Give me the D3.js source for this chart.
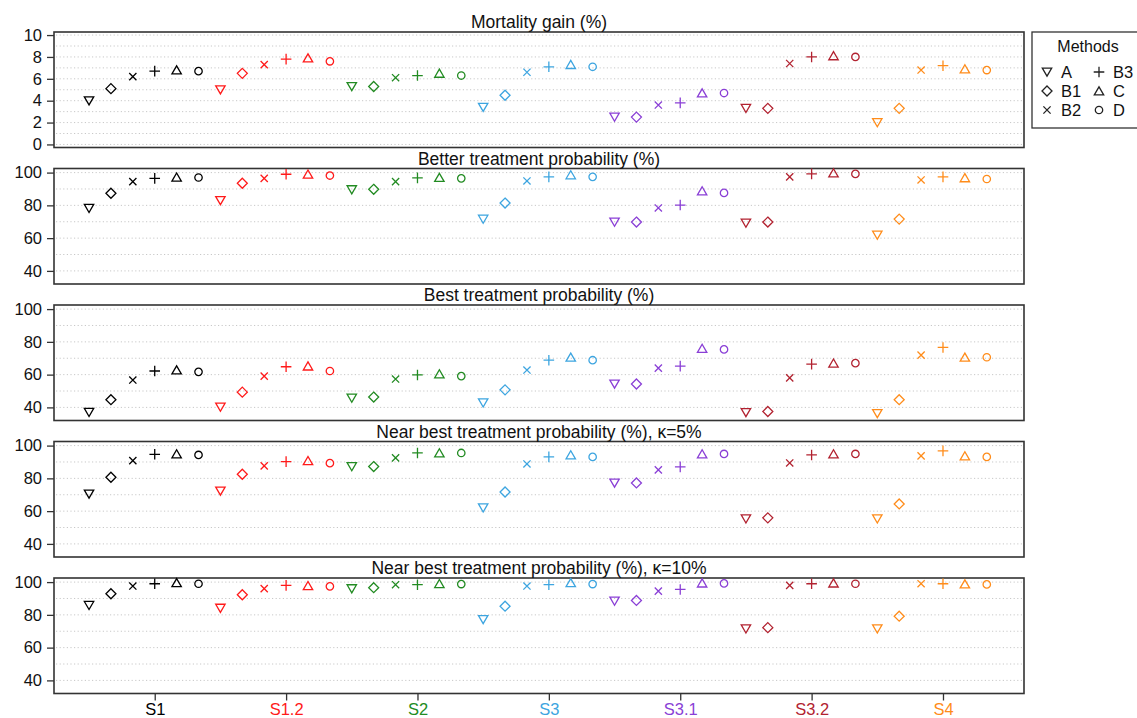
<!DOCTYPE html>
<html>
<head>
<meta charset="utf-8">
<script src="https://cdn.jsdelivr.net/npm/d3@7"></script>
<style>
  html, body { margin: 0; padding: 0; background: #fff; }
  svg { display: block; }
  text { font-family: "Liberation Sans", Arial, Helvetica, sans-serif; }
</style>
</head>
<body>
<svg id="chart" width="1137" height="718"></svg>
<script>
// ---------------- data ----------------
const scenarios = ["S1", "S1.2", "S2", "S3", "S3.1", "S3.2", "S4"];
const scenarioColors = ["#000000", "#FF1A1A", "#228B22", "#3DA5E0", "#8A3FD6", "#B22230", "#FF8C1A"];
const methods = ["A", "B1", "B2", "B3", "C", "D"];

const panelTitles = [
  "Mortality gain (%)",
  "Better treatment probability (%)",
  "Best treatment probability (%)",
  "Near best treatment probability (%), κ=5%",
  "Near best treatment probability (%), κ=10%"
];

// rows = scenarios, columns = methods A, B1, B2, B3, C, D
const mortalityGain = [
  [4.0, 5.1, 6.2, 6.7, 6.8, 6.7],
  [5.0, 6.5, 7.3, 7.8, 7.9, 7.6],
  [5.3, 5.3, 6.1, 6.3, 6.5, 6.3],
  [3.4, 4.5, 6.6, 7.1, 7.3, 7.1],
  [2.5, 2.5, 3.6, 3.8, 4.7, 4.7],
  [3.3, 3.3, 7.4, 8.0, 8.1, 8.0],
  [2.0, 3.3, 6.8, 7.2, 6.9, 6.8]
];
const betterTreatment = [
  [78.2, 87.4, 94.5, 96.5, 97.2, 97.0],
  [83.0, 93.5, 96.5, 99.0, 99.0, 98.2],
  [89.6, 89.8, 94.5, 96.8, 97.0, 96.5],
  [71.6, 81.4, 94.9, 97.4, 98.6, 97.4],
  [69.8, 69.8, 78.4, 80.2, 88.8, 87.6],
  [69.2, 69.8, 97.4, 99.2, 99.8, 99.2],
  [61.9, 71.6, 95.5, 97.4, 96.8, 96.1]
];
const bestTreatment = [
  [37.0, 44.7, 56.7, 62.2, 62.8, 61.7],
  [40.2, 49.3, 59.1, 64.8, 65.2, 62.2],
  [45.7, 46.3, 57.3, 59.8, 60.4, 59.1],
  [42.8, 50.7, 62.8, 68.8, 70.6, 68.8],
  [54.3, 54.3, 64.0, 65.2, 76.0, 75.4],
  [36.9, 37.5, 58.0, 66.4, 67.0, 67.0],
  [36.3, 44.7, 71.9, 76.6, 70.6, 70.6]
];
const nearBest5 = [
  [70.5, 80.7, 90.8, 94.7, 94.9, 94.3],
  [72.3, 82.5, 87.6, 90.2, 90.8, 89.3],
  [87.2, 87.2, 92.5, 95.5, 95.5, 95.5],
  [62.0, 71.7, 88.8, 93.1, 94.3, 93.1],
  [77.2, 77.2, 85.2, 87.0, 94.9, 94.9],
  [55.3, 55.9, 89.4, 94.3, 94.9, 94.9],
  [55.3, 64.4, 93.7, 96.8, 93.7, 93.1]
];
const nearBest10 = [
  [85.8, 92.9, 97.6, 99.0, 99.6, 99.0],
  [84.1, 92.3, 96.0, 98.0, 97.8, 97.4],
  [96.0, 96.6, 98.4, 98.4, 99.0, 98.8],
  [77.2, 85.3, 97.6, 98.4, 99.6, 98.8],
  [88.4, 88.8, 94.5, 95.5, 99.4, 99.2],
  [71.5, 72.2, 98.0, 99.0, 99.4, 99.0],
  [71.5, 79.2, 99.0, 99.0, 98.8, 98.6]
];
const panelData = [mortalityGain, betterTreatment, bestTreatment, nearBest5, nearBest10];

const mortalityTicks = [0, 2, 4, 6, 8, 10];
const mortalityGrid = [0, 1, 2, 3, 4, 5, 6, 7, 8, 9, 10];
const probTicks = [40, 60, 80, 100];
const probGrid = [40, 50, 60, 70, 80, 90, 100];

// ---------------- layout ----------------
const svg = d3.select("#chart");
const left = 54, right = 1024;
const panelTop0 = 32, panelStep = 136.5, panelH = 115.5;

const x = d3.scaleLinear().domain([-1.6, 42.7]).range([left, right]);
const nM = methods.length;

function symbolPath(m) {
  switch (m) {
    case "A": return "M-4.7,-3.9L4.7,-3.9L0,4.2Z";
    case "C": return "M-4.7,3.9L4.7,3.9L0,-4.2Z";
    case "B1": return "M0,-5L5,0L0,5L-5,0Z";
    case "B2": return "M-3.6,-3.6L3.6,3.6M-3.6,3.6L3.6,-3.6";
    case "B3": return "M-5.3,0L5.3,0M0,-5.3L0,5.3";
    case "D": return d3.path().toString() || "M3.7,0A3.7,3.7,0,1,1,-3.7,0A3.7,3.7,0,1,1,3.7,0Z";
  }
}
function circlePath(r) {
  return `M${r},0A${r},${r},0,1,1,${-r},0A${r},${r},0,1,1,${r},0Z`;
}
function markerPath(m) { return m === "D" ? circlePath(3.7) : symbolPath(m); }

panelData.forEach((data, p) => {
  const top = panelTop0 + p * panelStep;
  const bottom = top + panelH;
  const isMort = p === 0;
  const y = d3.scaleLinear()
    .domain(isMort ? [-0.28, 10.28] : [32.0, 102.5])
    .range([bottom, top]);

  const g = svg.append("g");

  // gridlines
  g.selectAll("line.grid")
    .data(isMort ? mortalityGrid : probGrid)
    .enter().append("line")
    .attr("x1", left + 2).attr("x2", right - 2)
    .attr("y1", d => y(d)).attr("y2", d => y(d))
    .attr("stroke", "#c8c8c8").attr("stroke-width", 1)
    .attr("stroke-dasharray", "1.2,2.4");

  // y axis
  const ya = g.append("g")
    .attr("transform", `translate(${left},0)`)
    .call(d3.axisLeft(y).tickValues(isMort ? mortalityTicks : probTicks)
      .tickSize(7).tickPadding(5).tickFormat(d3.format("d")));
  ya.select(".domain").remove();
  ya.selectAll(".tick line").attr("stroke", "#333").attr("stroke-width", 1.3);
  ya.selectAll(".tick text").attr("font-size", 16.5).attr("fill", "#111")
    .style("font-family", '"Liberation Sans", Arial, sans-serif');

  // frame
  g.append("rect")
    .attr("x", left).attr("y", top)
    .attr("width", right - left).attr("height", panelH)
    .attr("fill", "none").attr("stroke", "#333").attr("stroke-width", 1.6);

  // title
  g.append("text")
    .attr("x", (left + right) / 2).attr("y", top - 4)
    .attr("text-anchor", "middle").attr("font-size", 17.5).attr("fill", "#111")
    .text(panelTitles[p]);

  // points
  const pts = [];
  data.forEach((row, si) => row.forEach((v, mi) => pts.push({ si, mi, v })));
  g.selectAll("path.pt").data(pts).enter().append("path")
    .attr("transform", d => `translate(${x(d.si * nM + d.mi)},${y(d.v)})`)
    .attr("d", d => markerPath(methods[d.mi]))
    .attr("fill", "none")
    .attr("stroke", d => scenarioColors[d.si])
    .attr("stroke-width", 1.3);

  // bottom axis on last panel
  if (p === panelData.length - 1) {
    const xa = g.append("g")
      .attr("transform", `translate(0,${bottom})`)
      .call(d3.axisBottom(x)
        .tickValues(scenarios.map((s, i) => i * nM + 3))
        .tickFormat((d, i) => scenarios[i])
        .tickSize(7).tickPadding(3));
    xa.select(".domain").remove();
    xa.selectAll(".tick line").attr("stroke", "#333").attr("stroke-width", 1.3);
    xa.selectAll(".tick text")
      .attr("font-size", 16.5)
      .attr("fill", (d, i) => scenarioColors[i])
      .style("font-family", '"Liberation Sans", Arial, sans-serif');
  }
});

// ---------------- legend ----------------
const lg = svg.append("g");
lg.append("rect")
  .attr("x", 1032).attr("y", 32).attr("width", 130).attr("height", 96)
  .attr("fill", "#fff").attr("stroke", "#333").attr("stroke-width", 1.3);
lg.append("text").attr("x", 1088).attr("y", 52)
  .attr("text-anchor", "middle").attr("font-size", 16).attr("fill", "#111")
  .text("Methods");
methods.forEach((m, i) => {
  const col = Math.floor(i / 3), row = i % 3;
  const sx = 1047 + col * 52, sy = 72 + row * 19;
  lg.append("path")
    .attr("transform", `translate(${sx},${sy})`)
    .attr("d", markerPath(m))
    .attr("fill", "none").attr("stroke", "#222").attr("stroke-width", 1.3);
  lg.append("text").attr("x", sx + 14).attr("y", sy + 6)
    .attr("font-size", 16.5).attr("fill", "#111").text(m);
});
</script>
</body>
</html>
